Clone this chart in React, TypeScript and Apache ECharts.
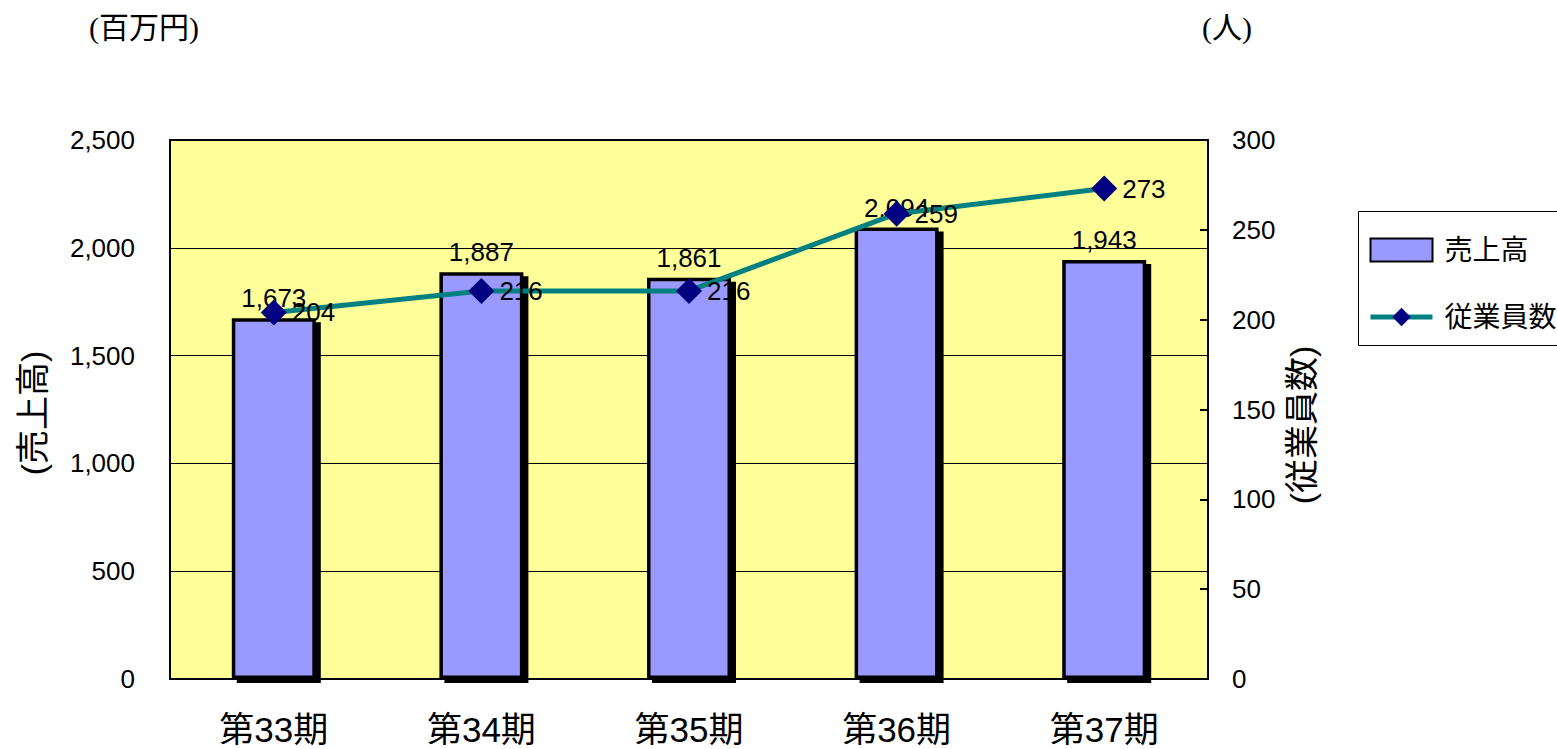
import React, { useEffect, useRef } from "react";
import * as echarts from "echarts";

const categories = ["第33期", "第34期", "第35期", "第36期", "第37期"];
const salesValues = [1673, 1887, 1861, 2094, 1943];
const employeeValues = [204, 216, 216, 259, 273];
const salesName = "売上高";
const employeeName = "従業員数";

const FONT = "'Liberation Sans', Arial, 'Noto Sans CJK JP', sans-serif";
const SERIF = "'Liberation Serif', 'Noto Sans CJK JP', serif";

export default function App() {
  const ref = useRef<HTMLDivElement>(null);
  useEffect(() => {
    if (!ref.current) return;
    const chart = echarts.init(ref.current, undefined, { renderer: "svg" });
    const fmt = (v: number) => v.toLocaleString("en-US");
    chart.setOption({
      animation: false,
      backgroundColor: "#ffffff",
      textStyle: { fontFamily: FONT },
      grid: {
        left: 170,
        top: 140,
        width: 1038,
        height: 539,
        show: true,
        backgroundColor: "#FFFF99",
        borderColor: "#000",
        borderWidth: 2,
      },
      legend: {
        orient: "vertical",
        left: 1368,
        top: 236,
        padding: 0,
        itemWidth: 62,
        itemHeight: 23,
        itemGap: 39,
        textStyle: { fontSize: 28, color: "#000", fontFamily: FONT, padding: [0, 0, 0, 7] },
        data: [
          { name: salesName, icon: "rect" },
          {
            name: employeeName,
            lineStyle: { color: "#008080", width: 5 },
            itemStyle: { color: "#000080" },
          },
        ],
      },
      graphic: [
        {
          type: "rect",
          shape: { x: 1358.5, y: 211.5, width: 260, height: 134 },
          style: { fill: "none", stroke: "#000", lineWidth: 1 },
          z: 10,
        },
        {
          type: "text",
          left: 89,
          top: 12,
          style: { text: "(百万円)", fontSize: 30, fill: "#000", fontFamily: SERIF },
        },
        {
          type: "text",
          left: 1202,
          top: 12,
          style: { text: "(人)", fontSize: 30, fill: "#000", fontFamily: SERIF },
        },
        {
          type: "text",
          x: 33,
          y: 413,
          rotation: Math.PI / 2,
          style: {
            text: "(売上高)",
            fontSize: 34,
            fill: "#000",
            fontFamily: FONT,
            align: "center",
            verticalAlign: "middle",
          },
        },
        {
          type: "text",
          x: 1302,
          y: 425,
          rotation: Math.PI / 2,
          style: {
            text: "(従業員数)",
            fontSize: 34,
            fill: "#000",
            fontFamily: FONT,
            align: "center",
            verticalAlign: "middle",
          },
        },
      ],
      xAxis: {
        type: "category",
        data: categories,
        axisLine: { lineStyle: { color: "#000", width: 2 } },
        axisTick: { inside: true, length: 8, lineStyle: { color: "#000", width: 2 } },
        axisLabel: { fontSize: 35, color: "#000", margin: 33, fontFamily: FONT },
      },
      yAxis: [
        {
          type: "value",
          min: 0,
          max: 2500,
          interval: 500,
          axisLine: { show: true, lineStyle: { color: "#000", width: 2 } },
          axisTick: { show: false },
          axisLabel: { fontSize: 26, color: "#000", margin: 35, formatter: fmt },
          splitLine: { show: true, lineStyle: { color: "#000", width: 1 } },
        },
        {
          type: "value",
          min: 0,
          max: 300,
          interval: 50,
          position: "right",
          axisLine: { show: true, lineStyle: { color: "#000", width: 2 } },
          axisTick: { show: true, inside: true, length: 8, lineStyle: { color: "#000", width: 2 } },
          axisLabel: { fontSize: 26, color: "#000", margin: 24 },
          splitLine: { show: false },
        },
      ],
      series: [
        {
          name: salesName,
          type: "bar",
          data: salesValues,
          barWidth: 84,
          itemStyle: {
            color: "#9999FF",
            borderColor: "#000",
            borderWidth: 3.5,
            shadowColor: "#000",
            shadowOffsetX: 5,
            shadowOffsetY: 4,
            shadowBlur: 0,
          },
          label: {
            show: true,
            position: "top",
            distance: 7,
            fontSize: 26,
            color: "#000",
            fontFamily: FONT,
            formatter: (p: any) => fmt(p.value),
          },
        },
        {
          name: employeeName,
          type: "line",
          yAxisIndex: 1,
          data: employeeValues,
          symbol: "diamond",
          symbolSize: 26,
          lineStyle: { color: "#008080", width: 5 },
          itemStyle: { color: "#000080" },
          label: {
            show: true,
            position: "right",
            distance: 5,
            fontSize: 26,
            color: "#000",
            fontFamily: FONT,
          },
          z: 5,
        },
      ],
    });
    return () => chart.dispose();
  }, []);
  return (
    <div
      ref={ref}
      style={{ position: "fixed", left: 0, top: 0, width: 1557, height: 749 }}
    />
  );
}
